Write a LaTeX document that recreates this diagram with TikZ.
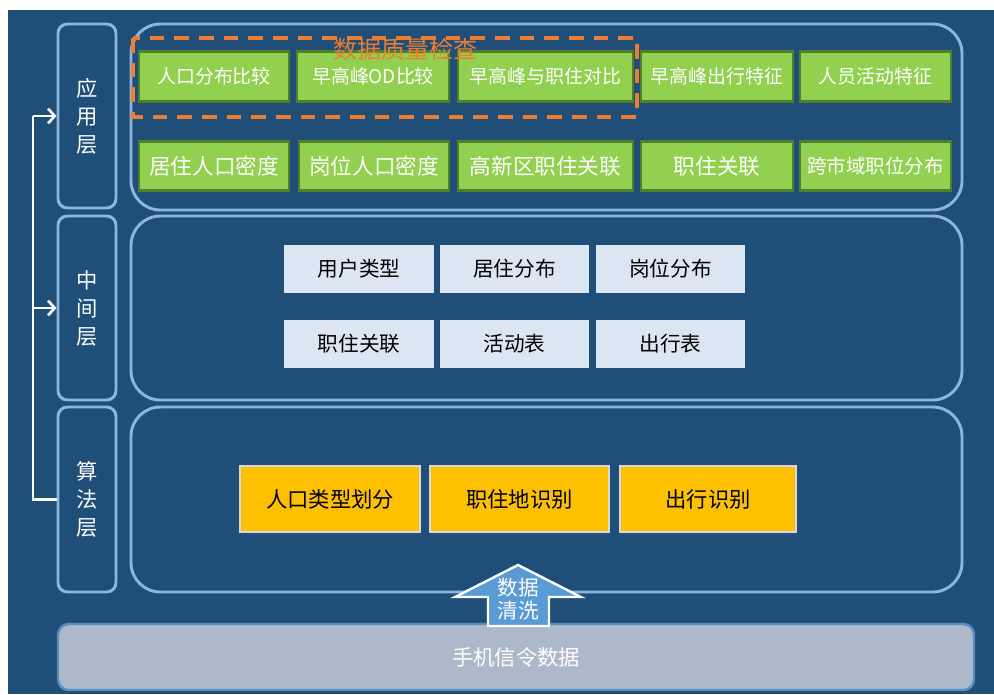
\documentclass[tikz,border=0pt]{standalone}
\usepackage{fontspec}
\setmainfont{Noto Sans CJK SC}
\usetikzlibrary{arrows.meta}
\definecolor{bgblue}{HTML}{1F4E79}
\definecolor{panelline}{HTML}{8EB4E3}
\definecolor{gfill}{HTML}{92D050}
\definecolor{gline}{HTML}{4F7F2A}
\definecolor{lfill}{HTML}{DCE6F2}
\definecolor{yfill}{HTML}{FFC000}
\definecolor{yline}{HTML}{D9D9D9}
\definecolor{orangeq}{HTML}{ED7D31}
\definecolor{grayfill}{HTML}{ADB9CA}
\definecolor{grayline}{HTML}{5B8DC0}
\definecolor{arrfill}{HTML}{5B9BD5}
\tikzset{
  sz/.style 2 args={minimum width=#1*0.75pt, minimum height=#2*0.75pt},
  panel/.style={draw=panelline, line width=2.2pt, rounded corners=22pt, inner sep=0pt},
  layerbox/.style={draw=panelline, line width=2.2pt, rounded corners=7pt, inner sep=0pt,
    text=white, font=\fontsize{16pt}{21pt}\selectfont, align=center},
  gbox/.style={draw=gline, fill=gfill, line width=2.2pt, inner sep=0pt, text=white},
  gsmall/.style={gbox, font=\fontsize{14.2pt}{16pt}\selectfont},
  gbig/.style={gbox, font=\fontsize{16.2pt}{18pt}\selectfont},
  lbox/.style={fill=lfill, inner sep=0pt, text=black, font=\fontsize{15.5pt}{18pt}\selectfont},
  ybox/.style={draw=yline, fill=yfill, line width=2.2pt, inner sep=0pt, text=black,
    font=\fontsize{16pt}{18pt}\selectfont},
  conn/.style={draw=white, line width=2.2pt, -{Straight Barb[length=5pt,width=11pt,line width=2pt]}},
  wline/.style={draw=white, line width=2.2pt},
}
\begin{document}
\begin{tikzpicture}[x=0.75pt, y=-0.75pt]
\useasboundingbox (0,0) rectangle (994,694);
\fill[white] (0,0) rectangle (994,694);
\fill[bgblue] (8,10) rectangle (994,694);

% layer labels
\node[layerbox, sz={58}{184}] (app) at (87,116) {应\\用\\层};
\node[layerbox, sz={58}{184}] (mid) at (87,308) {中\\间\\层};
\node[layerbox, sz={58}{185}] (alg) at (87,499.5) {算\\法\\层};

% panels
\node[panel, sz={831}{186}] (p1) at (546.5,117) {};
\node[panel, sz={831}{184}] (p2) at (546.5,308) {};
\node[panel, sz={831}{185}] (p3) at (546.5,499.5) {};

% application row 1
\node[gsmall, sz={150}{50}] (a1) at (214,76.5) {人口分布比较};
\node[gsmall, sz={152}{50}] (a2) at (373,76.5) {早高峰OD比较};
\node[gsmall, sz={175}{50}] (a3) at (545.5,76.5) {早高峰与职住对比};
\node[gsmall, sz={152}{50}] (a4) at (717,76.5) {早高峰出行特征};
\node[gsmall, sz={151}{50}] (a5) at (875.5,76.5) {人员活动特征};
% application row 2
\node[gbig, sz={150}{49}] (b1) at (214,166) {居住人口密度};
\node[gbig, sz={150}{49}] (b2) at (374,166) {岗位人口密度};
\node[gbig, sz={175}{49}] (b3) at (545.5,166) {高新区职住关联};
\node[gbig, sz={152}{49}] (b4) at (717,166) {职住关联};
\node[gsmall, font=\fontsize{14.6pt}{16pt}\selectfont, sz={151}{49}] (b5) at (875.5,166) {跨市域职位分布};

% data quality check dashed box
\draw[orangeq, line width=2.3pt, dash pattern=on 11pt off 7.5pt] (133,38) rectangle (637,117);
\node[text=orangeq, font=\fontsize{18pt}{20pt}\selectfont, inner sep=0pt] (dq) at (405,49) {数据质量检查};

% middle layer
\node[lbox, sz={150}{48}] (m1) at (359,269) {用户类型};
\node[lbox, sz={149}{48}] (m2) at (514.5,269) {居住分布};
\node[lbox, sz={149}{48}] (m3) at (670.5,269) {岗位分布};
\node[lbox, sz={150}{48}] (m4) at (359,344) {职住关联};
\node[lbox, sz={149}{48}] (m5) at (514.5,344) {活动表};
\node[lbox, sz={149}{48}] (m6) at (670.5,344) {出行表};

% algorithm layer
\node[ybox, sz={180}{66}] (y1) at (330,499) {人口类型划分};
\node[ybox, sz={179}{66}] (y2) at (519.5,499) {职住地识别};
\node[ybox, sz={176}{66}] (y3) at (708,499) {出行识别};

% signalling data bar
\node[draw=grayline, fill=grayfill, line width=1.8pt, rounded corners=8pt, sz={916}{66},
  text=white, font=\fontsize{16pt}{18pt}\selectfont] (sig) at (516,657) {手机信令数据};

% block arrow
\draw[fill=arrfill, draw=white, line width=1.8pt, line join=miter]
  (488,626) -- (488,597) -- (455,597) -- (518,565) -- (581,597) -- (549,597) -- (549,626) -- cycle;
\node[text=white, font=\fontsize{15.5pt}{17pt}\selectfont, align=center, inner sep=0pt] (clean) at (518,599) {数据\\清洗};

% left connector
\coordinate (j) at (33,499.5);
\draw[wline] (alg.west) -- (j) -- (j |- app.west);
\draw[conn] (j |- app.west) -- (app.west);
\draw[conn] (j |- mid.west) -- (mid.west);
\end{tikzpicture}
\end{document}
